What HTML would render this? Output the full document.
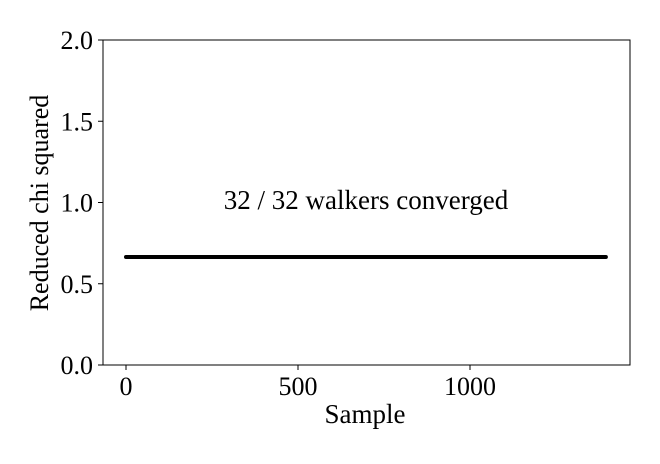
<!DOCTYPE html>
<html><head><meta charset="utf-8"><style>
body{margin:0;background:#fff;}
svg text{font-family:"Liberation Serif","DejaVu Serif",serif;fill:#000;}
</style></head><body>
<svg id="chart" width="660" height="459" xmlns="http://www.w3.org/2000/svg">
<rect x="103" y="40" width="527" height="325" fill="none" stroke="#000" stroke-width="1"/>
<g id="xticks"></g><g id="yticks"></g>
<polyline id="series" fill="none" stroke="#000" stroke-width="4" stroke-linejoin="round" stroke-linecap="round"/>
<text x="366" y="209" font-size="27" text-anchor="middle">32 / 32 walkers converged</text>
<text x="365" y="423" font-size="27" text-anchor="middle">Sample</text>
<text transform="translate(48,203) rotate(-90)" font-size="26" text-anchor="middle">Reduced chi squared</text>
</svg>
<script>
const xTickValues=[0,500,1000];
const yTickValues=[0,0.5,1.0,1.5,2.0];
const yTickLabels=["0.0","0.5","1.0","1.5","2.0"];
const samples=[0,100,200,300,400,500,600,700,800,900,1000,1100,1200,1300,1395];
const chiValues=[0.665,0.665,0.665,0.665,0.665,0.665,0.665,0.665,0.665,0.665,0.665,0.665,0.665,0.665,0.665];
const xs=v=>126+v*0.344;
const ys=v=>365-v*162.5;
const NS="http://www.w3.org/2000/svg";
const xg=document.getElementById('xticks');
xTickValues.forEach(v=>{
 const l=document.createElementNS(NS,'line');
 
 
 l.setAttribute('x1',xs(v));l.setAttribute('x2',xs(v));l.setAttribute('y1',365);l.setAttribute('y2',370);l.setAttribute('stroke','#000');
 xg.appendChild(l);
 const t=document.createElementNS(NS,'text');
 
 
 t.setAttribute('x',xs(v));t.setAttribute('y',395);t.setAttribute('font-size','26');t.setAttribute('text-anchor','middle');
 t.textContent=v;xg.appendChild(t);
});
const yg=document.getElementById('yticks');
yTickValues.forEach((v,i)=>{
 const l=document.createElementNS(NS,'line');
 
 
 l.setAttribute('x1',98);l.setAttribute('x2',103);l.setAttribute('y1',ys(v));l.setAttribute('y2',ys(v));l.setAttribute('stroke','#000');
 yg.appendChild(l);
 const t=document.createElementNS(NS,'text');
 
 
 t.setAttribute('x',93);t.setAttribute('y',ys(v)+9);t.setAttribute('font-size','26');t.setAttribute('text-anchor','end');
 t.textContent=yTickLabels[i];yg.appendChild(t);
});
document.getElementById('series').setAttribute('points',samples.map((s,i)=>xs(s)+','+ys(chiValues[i])).join(' '));
</script>
</body></html>
